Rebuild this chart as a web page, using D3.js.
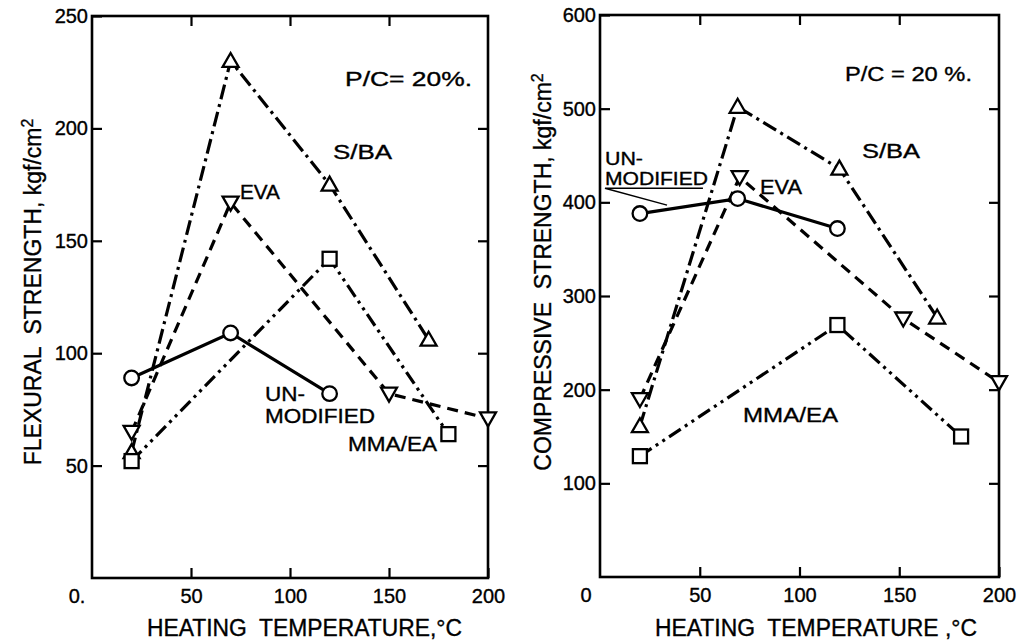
<!DOCTYPE html>
<html>
<head>
<meta charset="utf-8">
<script src="https://cdn.jsdelivr.net/npm/d3@7"></script>
<style>
  html, body { margin: 0; padding: 0; background: #fff; }
  svg { display: block; }
  text { font-family: "Liberation Sans", Arial, sans-serif; fill: #000; stroke: #000; stroke-width: 0.35px; }
</style>
</head>
<body>
<svg id="chart" width="1018" height="640"></svg>
<script>
// ---------- DATA ----------
const xTickValues = [50, 100, 150, 200];
const flexTickValues = [50, 100, 150, 200, 250];
const compTickValues = [100, 200, 300, 400, 500, 600];

// Flexural strength (kgf/cm2) vs heating temperature (°C)
const flexUnmodified = [[20, 89], [70, 109], [120, 82]];
const flexSBA        = [[20, 56], [70, 230], [120, 175], [170, 106]];
const flexEVA        = [[20, 65], [70, 167], [150, 82], [200, 71]];
const flexMMAEA      = [[20, 52], [120, 142], [180, 64]];

// Compressive strength (kgf/cm2) vs heating temperature (°C)
const compUnmodified = [[20, 388], [69, 404], [119, 372]];
const compSBA        = [[20, 161], [69, 502], [120, 436], [169, 277]];
const compEVA        = [[20, 190], [70, 427], [152, 276], [200, 208]];
const compMMAEA      = [[20, 129], [119, 269], [181, 150]];

const seriesNames = ["UNMODIFIED", "S/BA", "EVA", "MMA/EA"];

// ---------- STYLE / LAYOUT ----------
const styles = {
  "UNMODIFIED": { dash: null, marker: "circle" },
  "S/BA":       { dash: "15,5,3,5", marker: "up" },
  "EVA":        { dash: "11,7", marker: "down" },
  "MMA/EA":     { dash: "14,5,3,5,3,5", marker: "square" }
};

const panels = [
  {
    x0: 92, x1: 488, y0: 578, y1: 16, yMax: 250,
    yTicks: flexTickValues,
    series: [flexUnmodified, flexSBA, flexEVA, flexMMAEA],
    yTitle: "FLEXURAL  STRENGTH, kgf/cm", yTitlePos: [33, 292],
    xTitle: "HEATING  TEMPERATURE,\u00B0C", xTitlePos: [147, 628], xTitleLen: 315,
    zeroLabel: "0.", zeroX: 77,
    labels: [
      { t: "P/C=  20%.", x: 127.8, y: 222, len: 127, fs: 20 },
      { t: "S/BA", x: 121.7, y: 189.8, len: 59, fs: 20 },
      { t: "EVA", x: 74.7, y: 172, len: 40, fs: 20 },
      { t: "UN-", x: 87.4, y: 82, len: 40, fs: 20 },
      { t: "MODIFIED", x: 87.4, y: 72.2, len: 110, fs: 20 },
      { t: "MMA/EA", x: 129.3, y: 59.7, len: 89, fs: 20 }
    ],
    leader: null
  },
  {
    x0: 600, x1: 999, y0: 577, y1: 15, yMax: 600,
    yTicks: compTickValues,
    series: [compUnmodified, compSBA, compEVA, compMMAEA],
    yTitle: "COMPRESSIVE  STRENGTH, kgf/cm", yTitlePos: [543, 272],
    xTitle: "HEATING  TEMPERATURE ,\u00B0C", xTitlePos: [655, 628], xTitleLen: 322,
    zeroLabel: "0", zeroX: 586,
    labels: [
      { t: "P/C = 20 %.", x: 122.8, y: 536.8, len: 127, fs: 20 },
      { t: "S/BA", x: 131.3, y: 454.6, len: 58, fs: 20 },
      { t: "UN-", x: 2.5, y: 447, len: 38, fs: 18 },
      { t: "MODIFIED", x: 2.5, y: 425.8, len: 103, fs: 18 },
      { t: "EVA", x: 80.2, y: 416.2, len: 42, fs: 20 },
      { t: "MMA/EA", x: 71.7, y: 172.9, len: 95, fs: 20 }
    ],
    leader: [[51.6, 415], [2.5, 415], [33.6, 397]]
  }
];

const svg = d3.select("#chart");

function drawMarker(g, type, cx, cy) {
  if (type === "circle") {
    g.append("circle").attr("cx", cx).attr("cy", cy).attr("r", 7.3);
  } else if (type === "square") {
    g.append("rect").attr("x", cx - 7).attr("y", cy - 7).attr("width", 14).attr("height", 14);
  } else if (type === "up") {
    g.append("path").attr("d", `M${cx},${cy - 8}L${cx + 8},${cy + 6}L${cx - 8},${cy + 6}Z`);
  } else if (type === "down") {
    g.append("path").attr("d", `M${cx},${cy + 8}L${cx + 8},${cy - 6}L${cx - 8},${cy - 6}Z`);
  }
}

panels.forEach(p => {
  const x = d3.scaleLinear().domain([0, 200]).range([p.x0, p.x1]);
  const y = d3.scaleLinear().domain([0, p.yMax]).range([p.y0, p.y1]);
  const g = svg.append("g");

  const axisStyle = sel => {
    sel.select(".domain").remove();
    sel.selectAll(".tick line").attr("stroke", "#000").attr("stroke-width", 2.2);
    sel.selectAll(".tick text").style("font-family", '"Liberation Sans", Arial, sans-serif')
      .style("font-size", "20px").attr("fill", "#000");
  };

  g.append("g").attr("transform", `translate(0,${p.y0})`)
    .call(d3.axisBottom(x).tickValues(xTickValues).tickSize(-10).tickPadding(11).tickFormat(d3.format("d")))
    .call(axisStyle);
  g.append("g").attr("transform", `translate(0,${p.y1})`)
    .call(d3.axisTop(x).tickValues(xTickValues.slice(0, 3)).tickSize(-10).tickFormat(""))
    .call(axisStyle);
  g.append("g").attr("transform", `translate(${p.x0},0)`)
    .call(d3.axisLeft(y).tickValues(p.yTicks).tickSize(-10).tickPadding(4).tickFormat(d3.format("d")))
    .call(axisStyle);
  g.append("g").attr("transform", `translate(${p.x1},0)`)
    .call(d3.axisRight(y).tickValues(p.yTicks.slice(0, -1)).tickSize(-10).tickFormat(""))
    .call(axisStyle);

  g.append("rect").attr("x", p.x0).attr("y", p.y1)
    .attr("width", p.x1 - p.x0).attr("height", p.y0 - p.y1)
    .attr("fill", "none").attr("stroke", "#000").attr("stroke-width", 2.6);

  g.append("text").attr("x", p.zeroX).attr("y", p.y0 + 11).attr("dy", "0.71em")
    .attr("text-anchor", "middle").style("font-size", "20px").text(p.zeroLabel);

  const line = d3.line().x(d => x(d[0])).y(d => y(d[1]));
  p.series.forEach((s, i) => {
    const st = styles[seriesNames[i]];
    g.append("path").datum(s).attr("d", line)
      .attr("fill", "none").attr("stroke", "#000").attr("stroke-width", 3.2)
      .attr("stroke-dasharray", st.dash);
  });
  const mg = g.append("g").attr("fill", "#fff").attr("stroke", "#000").attr("stroke-width", 2.3);
  p.series.forEach((s, i) => {
    const st = styles[seriesNames[i]];
    s.forEach(d => drawMarker(mg, st.marker, x(d[0]), y(d[1])));
  });

  p.labels.forEach(l => {
    g.append("text").attr("x", x(l.x)).attr("y", y(l.y)).attr("dy", "0.36em")
      .attr("textLength", l.len).attr("lengthAdjust", "spacingAndGlyphs")
      .style("font-size", l.fs + "px").text(l.t);
  });
  if (p.leader) {
    g.append("path").datum(p.leader).attr("d", line)
      .attr("fill", "none").attr("stroke", "#000").attr("stroke-width", 1.5);
  }

  g.append("text").attr("x", p.xTitlePos[0]).attr("y", p.xTitlePos[1]).attr("dy", "0.36em")
    .attr("textLength", p.xTitleLen).attr("lengthAdjust", "spacingAndGlyphs")
    .style("font-size", "23px").style("white-space", "pre").text(p.xTitle);

  const yt = g.append("text")
    .attr("transform", `translate(${p.yTitlePos[0]},${p.yTitlePos[1]}) rotate(-90)`)
    .attr("text-anchor", "middle").attr("dy", "0.36em")
    .style("font-size", "23px").style("white-space", "pre");
  yt.append("tspan").text(p.yTitle);
  yt.append("tspan").attr("dy", "-0.5em").style("font-size", "16px").text("2");
});
</script>
</body>
</html>
